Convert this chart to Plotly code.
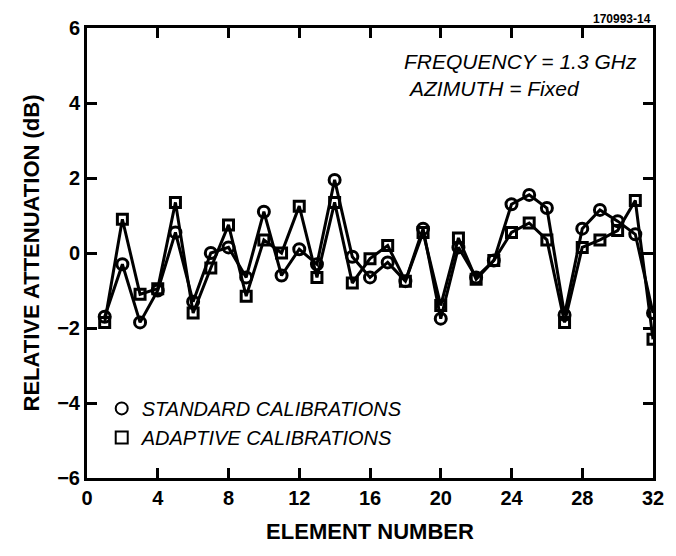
import plotly.graph_objects as go

elements = list(range(1, 33))
standard = [-1.7, -0.3, -1.85, -1.0, 0.55, -1.3, 0.0, 0.15, -0.65, 1.1,
            -0.6, 0.1, -0.3, 1.95, -0.1, -0.65, -0.25, -0.75, 0.65, -1.75,
            0.15, -0.65, -0.2, 1.3, 1.55, 1.2, -1.65, 0.65, 1.15, 0.85,
            0.5, -1.6]
adaptive = [-1.85, 0.9, -1.1, -0.95, 1.35, -1.6, -0.4, 0.75, -1.15, 0.35,
            0.0, 1.25, -0.65, 1.35, -0.8, -0.15, 0.2, -0.75, 0.55, -1.4,
            0.4, -0.7, -0.2, 0.55, 0.8, 0.35, -1.85, 0.15, 0.35, 0.6,
            1.4, -2.3]
x_ticks = [0, 4, 8, 12, 16, 20, 24, 28, 32]
y_ticks = [-6, -4, -2, 0, 2, 4, 6]

FONT = "Liberation Sans"

fig = go.Figure()
fig.add_trace(go.Scatter(
    x=elements, y=adaptive, mode="lines+markers", showlegend=False,
    line=dict(color="black", width=3),
    marker=dict(symbol="square-open", size=10, color="black", line=dict(width=3))))
fig.add_trace(go.Scatter(
    x=elements, y=standard, mode="lines+markers", showlegend=False,
    line=dict(color="black", width=3),
    marker=dict(symbol="circle-open", size=11, color="black", line=dict(width=3))))
# legend entries (markers only)
fig.add_trace(go.Scatter(
    x=[None], y=[None], mode="markers", name="STANDARD CALIBRATIONS",
    marker=dict(symbol="circle-open", size=11, color="black", line=dict(width=2.5))))
fig.add_trace(go.Scatter(
    x=[None], y=[None], mode="markers", name="ADAPTIVE CALIBRATIONS",
    marker=dict(symbol="square-open", size=10, color="black", line=dict(width=2.5))))

axis_common = dict(
    showline=True, linecolor="black", linewidth=3, mirror="ticks",
    ticks="inside", ticklen=10, tickwidth=2.5, tickcolor="black",
    showgrid=False, zeroline=False,
    tickfont=dict(family=FONT, size=20, color="black", weight="bold"),
)

fig.update_layout(
    width=676, height=556,
    margin=dict(l=87, r=17, t=28, b=78),
    paper_bgcolor="white", plot_bgcolor="white",
    font=dict(family=FONT, color="black"),
    xaxis=dict(range=[0, 32], tickvals=x_ticks,
               title=dict(text="<b>ELEMENT NUMBER</b>", font=dict(family=FONT, size=22), standoff=16),
               **axis_common),
    yaxis=dict(range=[-6, 6], tickvals=y_ticks,
               ticktext=[str(v).replace("-", "\u2212") for v in y_ticks],
               title=dict(text="<b>RELATIVE ATTENUATION (dB)</b>", font=dict(family=FONT, size=22), standoff=12),
               **axis_common),
    legend=dict(x=0.026, y=0.198, xanchor="left", yanchor="top",
                bgcolor="rgba(0,0,0,0)", borderwidth=0, itemsizing="constant",
                tracegroupgap=0,
                font=dict(family=FONT, size=20, color="black", style="italic")),
    annotations=[
        dict(text="<i>FREQUENCY = 1.3 GHz</i>", xref="paper", yref="paper",
             x=0.975, y=0.925, xanchor="right", yanchor="middle", showarrow=False,
             font=dict(family=FONT, size=21, color="black")),
        dict(text="<i>AZIMUTH = Fixed</i>", xref="paper", yref="paper",
             x=0.564, y=0.865, xanchor="left", yanchor="middle", showarrow=False,
             font=dict(family=FONT, size=21, color="black")),
        dict(text="<b>170993-14</b>", xref="paper", yref="paper",
             x=1.0, y=1.0, xanchor="right", yanchor="bottom", showarrow=False,
             font=dict(family=FONT, size=12, color="black")),
    ],
)

fig.write_html("out.html")
